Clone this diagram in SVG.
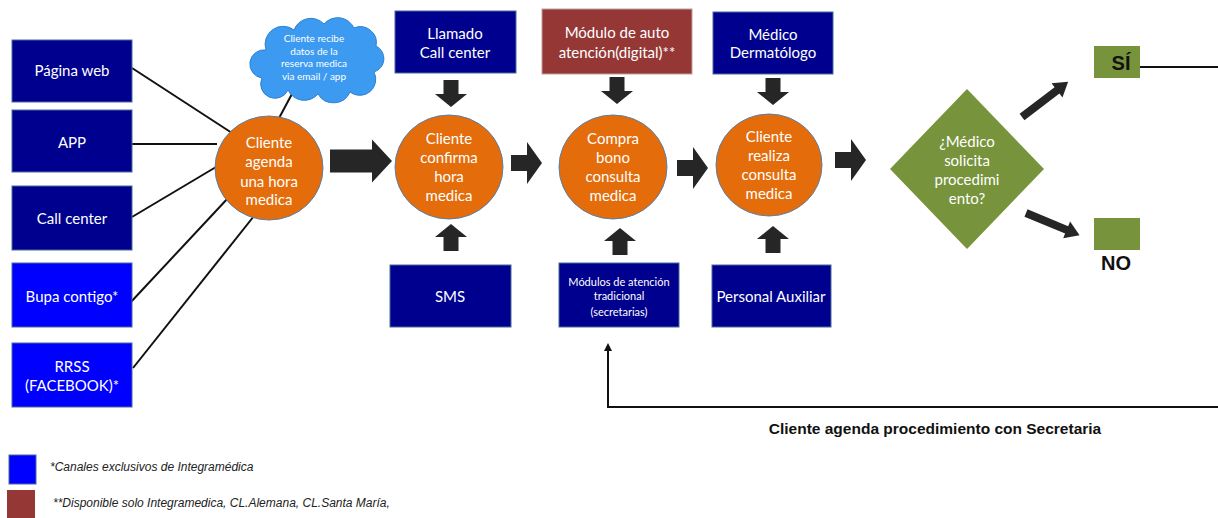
<svg xmlns="http://www.w3.org/2000/svg" width="1218" height="518" viewBox="0 0 1218 518">
<style>
.t{font-family:Lato,"Open Sans","Liberation Sans",sans-serif;fill:#fff;text-anchor:middle}
.f15{font-size:15px}
.f11{font-size:11px}
.f9{font-size:10px}
.navy{fill:#00008F;stroke:#4a6a9a;stroke-width:1}
.blue{fill:#0000FE;stroke:#4a6a9a;stroke-width:1}
.brick{fill:#953735;stroke:#c0a0a0;stroke-width:1}
.circ{fill:#E46C0A;stroke:#5b7fa8;stroke-width:1}
.green{fill:#77933C}
.blk{fill:#262626}
.ln{stroke:#111;stroke-width:2;fill:none}
.lg{font-family:"Liberation Sans",Arial,sans-serif;font-style:italic;font-size:12px;fill:#222}
.bold{font-family:"Liberation Sans",Arial,sans-serif;font-weight:bold;fill:#111;text-anchor:middle}
</style>
<defs>
<path id="bigR" d="M0,-11.5 H42 V-21.5 L62,0 L42,21.5 V11.5 H0 Z"/>
<path id="smR" d="M0,-8 H16 V-21 L31,0 L16,21 V8 H0 Z"/>
<path id="dn" d="M-7.5,0 H7.5 V14 H16 L0,27 L-16,14 H-7.5 Z"/>
<path id="up" d="M-7.5,27 H7.5 V13 H16 L0,0 L-16,13 H-7.5 Z"/>
<marker id="ah" markerWidth="10" markerHeight="10" refX="5" refY="5" orient="auto" markerUnits="userSpaceOnUse"><path d="M0,1 L8,5 L0,9 Z" fill="#111"/></marker>
</defs>

<g id="connectors">
<line class="ln" x1="132" y1="68" x2="232" y2="133"/>
<line class="ln" x1="132" y1="144" x2="217" y2="144"/>
<line class="ln" x1="132" y1="217" x2="216" y2="167"/>
<line class="ln" x1="130" y1="303" x2="229" y2="197"/>
<line class="ln" x1="133" y1="368" x2="254" y2="216"/>
<line class="ln" x1="293" y1="92" x2="278" y2="120"/>
<use href="#bigR" class="blk" x="330" y="161"/>
<use href="#smR" class="blk" x="511" y="163"/>
<use href="#smR" class="blk" x="677" y="168"/>
<use href="#smR" class="blk" x="835" y="160"/>
<use href="#dn" class="blk" x="451" y="80"/>
<use href="#up" class="blk" x="451" y="224"/>
<use href="#dn" class="blk" x="617" y="77"/>
<use href="#up" class="blk" x="620" y="228"/>
<use href="#dn" class="blk" x="773" y="78"/>
<use href="#up" class="blk" x="773" y="226"/>
<path class="blk" transform="translate(1022,117) rotate(-37.3)" d="M0,-4 H44 V-9 L58,0 L44,9 V4 H0 Z"/>
<path class="blk" transform="translate(1026,213) rotate(22.5)" d="M0,-4 H44 V-9 L58,0 L44,9 V4 H0 Z"/>
<line class="ln" x1="1140" y1="67" x2="1218" y2="67"/>
<polyline class="ln" points="1218,407 608,407 608,346" marker-end="url(#ah)"/>
</g>

<g id="pagina-web"><rect class="navy" x="12" y="40" width="120" height="62"/><text class="t f15" x="72" y="76">Página web</text></g>
<g id="app"><rect class="navy" x="12" y="110" width="120" height="62"/><text class="t f15" x="72" y="148">APP</text></g>
<g id="call-center"><rect class="navy" x="12" y="186" width="120" height="64"/><text class="t f15" x="72" y="224">Call center</text></g>
<g id="bupa"><rect class="blue" x="12" y="263" width="120" height="64"/><text class="t f15" x="72" y="302">Bupa contigo*</text></g>
<g id="rrss"><rect class="blue" x="12" y="343" width="120" height="64"/><text class="t f15" x="72" y="372">RRSS</text><text class="t f15" x="72" y="391">(FACEBOOK)*</text></g>

<g id="cloud">
<path d="M262,78 a14,14 0 0 1 4,-28 a18,18 0 0 1 28,-20 a18,18 0 0 1 30,-6 a18,18 0 0 1 30,4 a16,16 0 0 1 22,18 a14,14 0 0 1 -2,26 a16,16 0 0 1 -24,20 a18,18 0 0 1 -32,2 a18,18 0 0 1 -30,-4 a14,14 0 0 1 -26,-12 Z" fill="#3C9BF0" stroke="#2f80d0" stroke-width="1"/>
<text class="t f9" x="314" y="42">Cliente recibe</text>
<text class="t f9" x="314" y="55">datos de la</text>
<text class="t f9" x="314" y="67">reserva medica</text>
<text class="t f9" x="314" y="80">via email / app</text>
</g>

<g id="c1"><ellipse class="circ" cx="269" cy="168" rx="54" ry="52"/>
<text class="t f15" x="269" y="148">Cliente</text><text class="t f15" x="269" y="167">agenda</text><text class="t f15" x="269" y="187">una hora</text><text class="t f15" x="269" y="205">medica</text></g>

<g id="llamado"><rect class="navy" x="395" y="11" width="121" height="62"/><text class="t f15" x="455" y="39">Llamado</text><text class="t f15" x="455" y="58">Call center</text></g>
<g id="c2"><ellipse class="circ" cx="449" cy="167" rx="54" ry="52"/>
<text class="t f15" x="449" y="144">Cliente</text><text class="t f15" x="449" y="163">confirma</text><text class="t f15" x="449" y="182">hora</text><text class="t f15" x="449" y="201">medica</text></g>
<g id="sms"><rect class="navy" x="390" y="265" width="121" height="62"/><text class="t f15" x="450" y="302">SMS</text></g>

<g id="modulo-auto"><rect class="brick" x="542" y="9" width="150" height="65"/><text class="t f15" x="617" y="38">Módulo de auto</text><text class="t f15" x="617" y="58">atención(digital)**</text></g>
<g id="c3"><ellipse class="circ" cx="613" cy="167" rx="54" ry="52"/>
<text class="t f15" x="613" y="144">Compra</text><text class="t f15" x="613" y="163">bono</text><text class="t f15" x="613" y="182">consulta</text><text class="t f15" x="613" y="201">medica</text></g>
<g id="modulos-trad"><rect class="navy" x="559" y="263" width="120" height="64"/><text class="t f11" x="619" y="286">Módulos de atención</text><text class="t f11" x="619" y="300">tradicional</text><text class="t f11" x="619" y="316">(secretarias)</text></g>

<g id="medico"><rect class="navy" x="713" y="12" width="120" height="62"/><text class="t f15" x="773" y="40">Médico</text><text class="t f15" x="773" y="58">Dermatólogo</text></g>
<g id="c4"><ellipse class="circ" cx="769" cy="165" rx="53" ry="51"/>
<text class="t f15" x="769" y="142">Cliente</text><text class="t f15" x="769" y="161">realiza</text><text class="t f15" x="769" y="180">consulta</text><text class="t f15" x="769" y="199">medica</text></g>
<g id="personal"><rect class="navy" x="712" y="265" width="119" height="62"/><text class="t f15" x="771" y="302">Personal Auxiliar</text></g>

<g id="decision"><polygon class="green" points="967,89 1044,169 967,249 890,169"/>
<text class="t f15" x="967" y="147">¿Médico</text><text class="t f15" x="967" y="166">solicita</text><text class="t f15" x="967" y="185">procedimi</text><text class="t f15" x="967" y="204">ento?</text></g>

<g id="si"><rect class="green" x="1094" y="46" width="46" height="32"/><text class="bold" x="1121" y="70" font-size="20">SÍ</text></g>
<g id="no"><rect class="green" x="1094" y="218" width="46" height="32"/><text class="bold" x="1116" y="270" font-size="20">NO</text></g>

<g id="loop-label"><text class="bold" x="935" y="434" font-size="15.5">Cliente agenda procedimiento con Secretaria</text></g>

<g id="legend">
<rect x="9" y="455" width="27" height="29" fill="#0000FE" stroke="#4a6a9a" stroke-width="1"/>
<text class="lg" x="50" y="471">*Canales exclusivos de Integramédica</text>
<rect x="7" y="490" width="28" height="28" fill="#953735"/>
<text class="lg" x="53" y="507">**Disponible solo Integramedica, CL.Alemana, CL.Santa María,</text>
</g>
</svg>
